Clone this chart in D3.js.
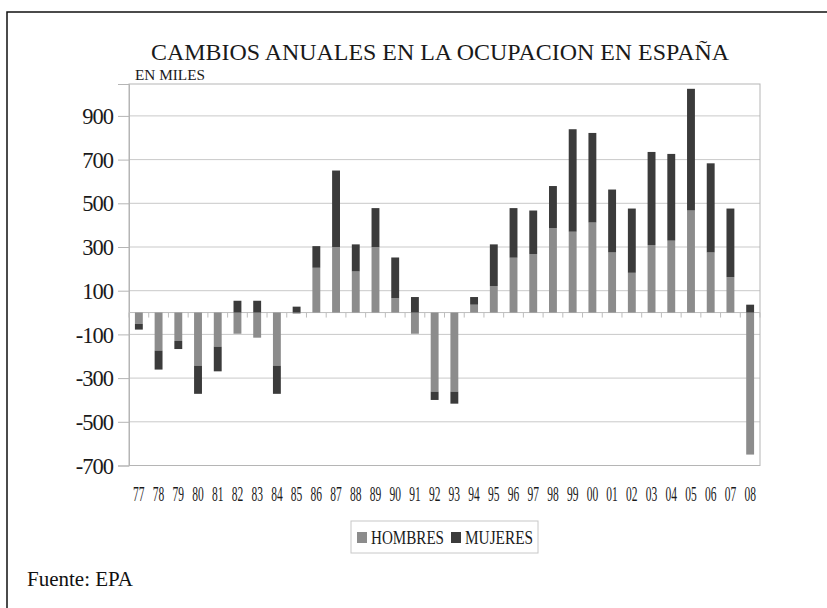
<!DOCTYPE html>
<html>
<head>
<meta charset="utf-8">
<script src="https://cdn.jsdelivr.net/npm/d3@7"></script>
<style>
  body { margin: 0; background: #fff; }
  svg { display: block; font-family: "Liberation Serif", "Times New Roman", serif; }
</style>
</head>
<body>
<svg width="827" height="608"></svg>
<script>
const years = ["77","78","79","80","81","82","83","84","85","86","87","88","89","90","91","92",
  "93","94","95","96","97","98","99","00","01","02","03","04","05","06","07","08"]
const hombres = [-52,-174,-130,-243,-156,-97,-115,-243,-5,205,300,188,300,66,-97,-362,
  -362,36,121,251,268,387,370,412,275,182,309,329,467,275,162,-650]
const mujeres = [-26,-87,-37,-129,-113,54,54,-129,27,99,350,124,178,186,71,-38,
  -55,35,191,227,199,192,469,410,288,294,426,397,557,408,314,36]
const yTicks = [900,700,500,300,100,-100,-300,-500,-700]
const series = ["HOMBRES","MUJERES"]

const colors = { HOMBRES: "#8c8c8c", MUJERES: "#3b3b3b" }
const plot = { left: 129, right: 760, top: 84, bottom: 465.5 }

const svg = d3.select("svg")

// outer frame (runs off the right and bottom edge)
svg.append("rect")
  .attr("x", 7).attr("y", 12)
  .attr("width", 840).attr("height", 620)
  .attr("fill", "none").attr("stroke", "#111").attr("stroke-width", 1.5)

const rows = years.map((y, i) => ({ year: y, HOMBRES: hombres[i], MUJERES: mujeres[i] }))
const stacked = d3.stack().keys(series).offset(d3.stackOffsetDiverging)(rows)

const x = d3.scaleBand(years, [plot.left, plot.right]).paddingInner(0.6).paddingOuter(0.3)
const y = d3.scaleLinear([-700, 1046], [plot.bottom, plot.top])

// gridlines
svg.append("g").selectAll("line")
  .data(yTicks)
  .join("line")
  .attr("x1", plot.left).attr("x2", plot.right)
  .attr("y1", d => y(d)).attr("y2", d => y(d))
  .attr("stroke", "#c9c9c9")

svg.append("rect")
  .attr("x", plot.left).attr("y", plot.top)
  .attr("width", plot.right - plot.left).attr("height", plot.bottom - plot.top)
  .attr("fill", "none").attr("stroke", "#b5b5b5")

// y axis
const yAxis = svg.append("g")
  .attr("transform", `translate(${plot.left},0)`)
  .call(d3.axisLeft(y).tickValues(yTicks).tickSize(11).tickPadding(5).tickFormat(d => String(d)))
yAxis.select(".domain").attr("stroke", "#b5b5b5")
yAxis.selectAll(".tick line").attr("stroke", "#b5b5b5")
yAxis.selectAll("text")
  .attr("font-size", 22.5).attr("fill", "#1a1a1a")
  .attr("font-family", "Liberation Serif").attr("dy", "0.34em")
  .attr("letter-spacing", -1)

// zero line with category ticks
svg.append("line")
  .attr("x1", plot.left).attr("x2", plot.right)
  .attr("y1", y(0)).attr("y2", y(0))
  .attr("stroke", "#bdbdbd")
const bounds = years.map(d => x(d) - x.step() * x.paddingInner() / 2).concat([plot.right])
svg.append("g").selectAll("line")
  .data(bounds)
  .join("line")
  .attr("x1", d => d).attr("x2", d => d)
  .attr("y1", y(0)).attr("y2", y(0) + 5)
  .attr("stroke", "#bdbdbd")

// bars
svg.append("g").selectAll("g")
  .data(stacked)
  .join("g")
  .attr("fill", d => colors[d.key])
  .selectAll("rect")
  .data(d => d)
  .join("rect")
  .attr("x", d => x(d.data.year))
  .attr("width", x.bandwidth())
  .attr("y", d => y(Math.max(d[0], d[1])))
  .attr("height", d => Math.abs(y(d[0]) - y(d[1])))

// x labels
const xAxis = svg.append("g")
  .attr("transform", `translate(0,${plot.bottom})`)
  .call(d3.axisBottom(x).tickSize(0).tickPadding(20))
xAxis.select(".domain").remove()
xAxis.selectAll("text")
  .attr("font-size", 21.5).attr("fill", "#1a1a1a")
  .attr("font-family", "Liberation Serif")
  .attr("textLength", 11.5).attr("lengthAdjust", "spacingAndGlyphs")

// titles
svg.append("text")
  .attr("x", 440).attr("y", 60)
  .attr("text-anchor", "middle")
  .attr("font-size", 23).attr("fill", "#1a1a1a")
  .attr("textLength", 578).attr("lengthAdjust", "spacingAndGlyphs")
  .text("CAMBIOS ANUALES EN LA OCUPACION EN ESPAÑA")

svg.append("text")
  .attr("x", 135).attr("y", 80)
  .attr("font-size", 15).attr("fill", "#1a1a1a")
  .attr("textLength", 70).attr("lengthAdjust", "spacingAndGlyphs")
  .text("EN MILES")

// legend
const legend = svg.append("g")
legend.append("rect")
  .attr("x", 351).attr("y", 521).attr("width", 187).attr("height", 32)
  .attr("fill", "#fff").attr("stroke", "#c8c8c8")
const items = [
  { key: "HOMBRES", sx: 357, tx: 371, tw: 73 },
  { key: "MUJERES", sx: 451, tx: 465, tw: 68 }
]
items.forEach(it => {
  legend.append("rect")
    .attr("x", it.sx).attr("y", 532).attr("width", 10).attr("height", 11)
    .attr("fill", colors[it.key])
  legend.append("text")
    .attr("x", it.tx).attr("y", 544)
    .attr("font-size", 19).attr("fill", "#1a1a1a")
    .attr("textLength", it.tw).attr("lengthAdjust", "spacingAndGlyphs")
    .text(it.key)
})

svg.append("text")
  .attr("x", 27).attr("y", 586)
  .attr("font-size", 21).attr("fill", "#111")
  .text("Fuente: EPA")
</script>
</body>
</html>
